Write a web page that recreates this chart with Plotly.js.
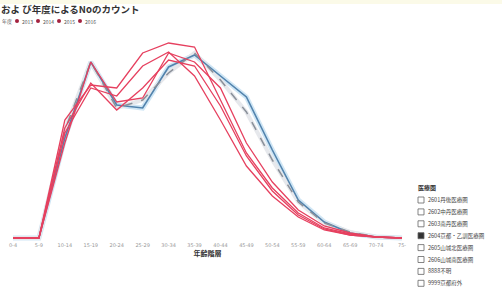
<!DOCTYPE html>
<html>
<head>
<meta charset="utf-8">
<script src="https://cdn.plot.ly/plotly-3.0.1.min.js"></script>
<style>html,body{margin:0;padding:0;background:#fff;}#chart{width:502px;height:293px;}</style>
</head>
<body>
<div id="chart"></div>
<script>
// Age group categories (x axis)
const ageGroups = ["0-4","5-9","10-14","15-19","20-24","25-29","30-34","35-39","40-44","45-49","50-54","55-59","60-64","65-69","70-74","75-"];
// Year series (counts)
const years = ["2013","2014","2015","2016"];
const red2013 = [0,0,118,153,150,185,195,191,138,85,50,25,10,4,1,0];
const red2014 = [0,0,105,150,142,172,186,162,118,72,42,21,8,3,1,0];
const red2015 = [0,0,95,176,136,140,185,176,150,95,56,28,12,5,1,0];
const red2016 = [0,0,110,155,128,150,178,172,132,82,47,23,9,3,1,0];
const blueSeries = [0,0,100,176,133,130,171,183,162,141,88,38,16,5,1,0];
const graySeries = [0,0,108,176,130,138,165,185,158,126,78,36,15,6,1,0];
// Region slicer items
const regionTitle = "医療圏";
const regions = ["2601丹後医療圏","2602中丹医療圏","2603南丹医療圏","2604京都・乙訓医療圏","2605山城北医療圏","2606山城南医療圏","8888不明","9999京都府外"];
const regionSelected = [false,false,false,true,false,false,false,false];

const W = 502, H = 293;
const M = {l: 0, r: 87, t: 38, b: 52};
const PW = W - M.l - M.r, PH = H - M.t - M.b;
const px = x => (x - M.l) / PW;
const py = y => 1 - (y - M.t) / PH;

const red = "#e6405f";
const traces = [];
const redData = [red2013, red2014, red2015, red2016];
traces.push({x: ageGroups, y: blueSeries, type: "scatter", mode: "lines", line: {color: "#cfe6f5", width: 5}, showlegend: false, hoverinfo: "skip"});
traces.push({x: ageGroups, y: graySeries, type: "scatter", mode: "lines", line: {color: "#e6e8ec", width: 4}, showlegend: false, hoverinfo: "skip"});
traces.push({x: ageGroups, y: blueSeries, type: "scatter", mode: "lines", line: {color: "#5283ad", width: 1.6}, showlegend: false});
traces.push({x: ageGroups, y: graySeries, type: "scatter", mode: "lines", line: {color: "#8a9099", width: 1.5, dash: "dash"}, showlegend: false});
redData.forEach((d, i) => {
  traces.push({x: ageGroups, y: d, type: "scatter", mode: "lines", name: years[i], line: {color: red, width: 1.3}, showlegend: false});
});

const annotations = [];
const shapes = [];
const jp = "Noto Sans CJK JP";
shapes.push({type: "rect", xref: "paper", yref: "paper", x0: px(0), x1: px(W), y0: py(4), y1: py(0), line: {width: 0}, fillcolor: "#fbfae8", layer: "below"});
// title
annotations.push({xref: "paper", yref: "paper", x: px(0), y: py(1), xanchor: "left", yanchor: "top", borderpad: 0,
  text: "<b>およ び年度によるNoのカウント</b>", showarrow: false, font: {family: jp, size: 9.5, color: "#333"}});
// year legend
const legY = 21;
annotations.push({xref: "paper", yref: "paper", x: px(1), y: py(legY), xanchor: "left", yanchor: "middle", borderpad: 0,
  text: "年度", showarrow: false, font: {family: jp, size: 5, color: "#555"}});
years.forEach((y, i) => {
  const cx = 17 + i * 21;
  shapes.push({type: "circle", xref: "paper", yref: "paper", x0: px(cx - 2), x1: px(cx + 2), y0: py(legY + 2), y1: py(legY - 2),
    line: {width: 0}, fillcolor: "#a3223f"});
  annotations.push({xref: "paper", yref: "paper", x: px(cx + 4), y: py(legY), xanchor: "left", yanchor: "middle", borderpad: 0,
    text: y, showarrow: false, font: {family: jp, size: 5, color: "#555"}});
});
// region slicer
annotations.push({xref: "paper", yref: "paper", x: px(416), y: py(187), xanchor: "left", yanchor: "middle",
  text: "<b>" + regionTitle + "</b>", showarrow: false, font: {family: jp, size: 6, color: "#333"}});
regions.forEach((r, i) => {
  const yPix = 200 + i * 11.9;
  annotations.push({xref: "paper", yref: "paper", x: px(426), y: py(yPix), xanchor: "left", yanchor: "middle",
    text: r, showarrow: false, font: {family: jp, size: 5.5, color: "#444"}});
  shapes.push({type: "rect", xref: "paper", yref: "paper", x0: px(418), x1: px(424), y0: py(yPix + 3), y1: py(yPix - 3),
    line: {color: "#666", width: 0.8}, fillcolor: regionSelected[i] ? "#333" : "rgba(0,0,0,0)"});
});

const layout = {
  width: W, height: H,
  margin: M,
  paper_bgcolor: "#ffffff", plot_bgcolor: "#ffffff",
  showlegend: false,
  xaxis: {type: "category", range: [-0.5, 15.5], showgrid: false, zeroline: false, showline: false,
    tickfont: {family: "DejaVu Sans", size: 5, color: "#999"}, ticks: "", ticklen: 0,
    title: {text: "<b>年齢階層</b>", font: {family: jp, size: 7, color: "#333"}, standoff: 1},
    fixedrange: true},
  yaxis: {range: [-3, 200], visible: false, showgrid: false, zeroline: false, fixedrange: true},
  annotations: annotations,
  shapes: shapes
};
Plotly.newPlot("chart", traces, layout, {staticPlot: true, displayModeBar: false});
</script>
</body>
</html>
